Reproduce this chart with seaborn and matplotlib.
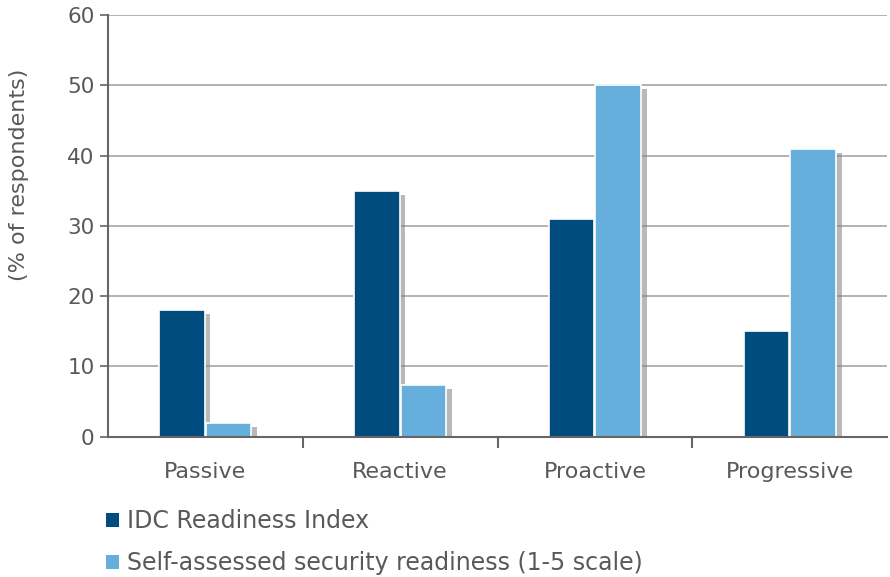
import pandas as pd
import numpy as np
import matplotlib
matplotlib.use("Agg")
import matplotlib.pyplot as plt
import matplotlib.patheffects as pe
import seaborn as sns

# data
stages = ["Passive", "Reactive", "Proactive", "Progressive"]
idc_index = [18, 35, 31, 15]
self_assessed = [2, 7.4, 50, 41]
series_names = ["IDC Readiness Index", "Self-assessed security readiness (1-5 scale)"]
colors = ["#004C7F", "#66AEDC"]

df = pd.DataFrame({
    "stage": stages * 2,
    "value": idc_index + self_assessed,
    "series": [series_names[0]] * 4 + [series_names[1]] * 4,
})

sns.set_style("white")
plt.rcParams["font.family"] = ["DejaVu Sans"]
text_col = "#595959"

fig = plt.figure(figsize=(8.9, 5.77), dpi=100)
ax = fig.add_axes([0.121, 0.243, 0.876, 0.731])

sns.barplot(data=df, x="stage", y="value", hue="series", order=stages,
            hue_order=series_names, palette=colors, saturation=1, width=0.48, gap=0.02,
            edgecolor="white", linewidth=1.2, ax=ax, legend=True)

for bar in ax.patches:
    bar.set_path_effects([pe.SimplePatchShadow(offset=(4, -3), shadow_rgbFace="#808080", alpha=0.55),
                          pe.Normal()])

ax.set_ylim(0, 60)
ax.set_xlim(-0.5, 3.5)
ax.set_yticks(range(0, 61, 10))
ax.yaxis.grid(True, color="#a6a6a6", linewidth=1.2)
ax.set_axisbelow(True)

ax.set_xlabel("")
ax.set_ylabel("(% of respondents)", fontsize=16, color=text_col)
ax.yaxis.set_label_coords(-0.101, 0.62)
ax.tick_params(axis="y", labelsize=15.5, colors=text_col, length=6, width=1.2,
               direction="out", left=True, color="#666666")
ax.tick_params(axis="x", labelsize=16, colors=text_col, length=0, pad=18)
ax.set_xticks([0.5, 1.5, 2.5], minor=True)
ax.tick_params(axis="x", which="minor", length=8, width=1.5, color="#666666", direction="out", bottom=True)

for s in ["top", "right"]:
    ax.spines[s].set_visible(False)
for s in ["left", "bottom"]:
    ax.spines[s].set_color("#666666")
    ax.spines[s].set_linewidth(1.5)

handles, labels = ax.get_legend_handles_labels()
ax.legend_.remove()
for h in handles:
    h.set_path_effects([])
    h.set_edgecolor("none")
fig.legend(handles, labels, loc="upper left", bbox_to_anchor=(0.119, 0.117),
           frameon=False, fontsize=17, handlelength=0.55, handleheight=0.55,
           handletextpad=0.35, labelspacing=0.75, labelcolor=text_col,
           borderaxespad=0, borderpad=0)

fig.savefig("out.png", dpi=100)
